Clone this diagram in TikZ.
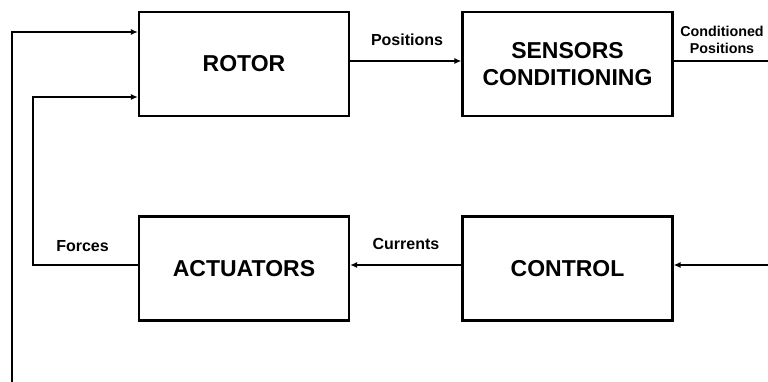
\documentclass[tikz,border=0pt]{standalone}
\usepackage{fontspec}
\setmainfont{Liberation Sans}
\usetikzlibrary{arrows.meta}
\begin{document}
\begin{tikzpicture}[x=1pt,y=-1pt,
  blockbox/.style={draw,line width=2.2pt,minimum width=210pt,minimum height=104pt,inner sep=0pt,
    font=\fontsize{23}{27}\selectfont\bfseries,align=center},
  lab/.style={font=\fontsize{16}{17}\selectfont\bfseries,inner sep=0pt,align=center},
  slab/.style={font=\fontsize{14.3}{17}\selectfont\bfseries,inner sep=0pt,align=center},
  conn/.style={line width=1.6pt},
  arr/.style={conn,-{Latex[length=7pt,width=6pt]}}]
\useasboundingbox (0,0) rectangle (768,382);
\node[blockbox] (rotor) at (244,64) {ROTOR};
\node[blockbox] (sens) at (567.5,64) {SENSORS\\CONDITIONING};
\node[blockbox] (act) at (244,268.5) {ACTUATORS};
\node[blockbox] (ctrl) at (567.5,268.5) {CONTROL};
\coordinate (outbot) at (12,382);
\coordinate (outright) at (768,61);
\coordinate (inright) at (768,265);
\coordinate (c1) at (12,32);
\coordinate (c2) at (33,97);
\coordinate (c3) at (33,265);
\draw[arr] (outbot) -- (c1) -- (c1 -| rotor.west);
\draw[arr] (act.west |- c3) -- (c3) -- (c2) -- (c2 -| rotor.west);
\draw[arr] (rotor.east |- outright) -- (sens.west |- outright);
\draw[conn] (sens.east |- outright) -- (outright);
\draw[arr] (inright) -- (ctrl.east |- inright);
\draw[arr] (ctrl.west |- inright) -- (act.east |- inright);
\node[lab] (lpos) at (407,40) {Positions};
\node[slab] (lcond) at (722,40) {Conditioned\\Positions};
\node[lab] (lforce) at (82.5,246) {Forces};
\node[lab] (lcur) at (406,244) {Currents};
\end{tikzpicture}
\end{document}
